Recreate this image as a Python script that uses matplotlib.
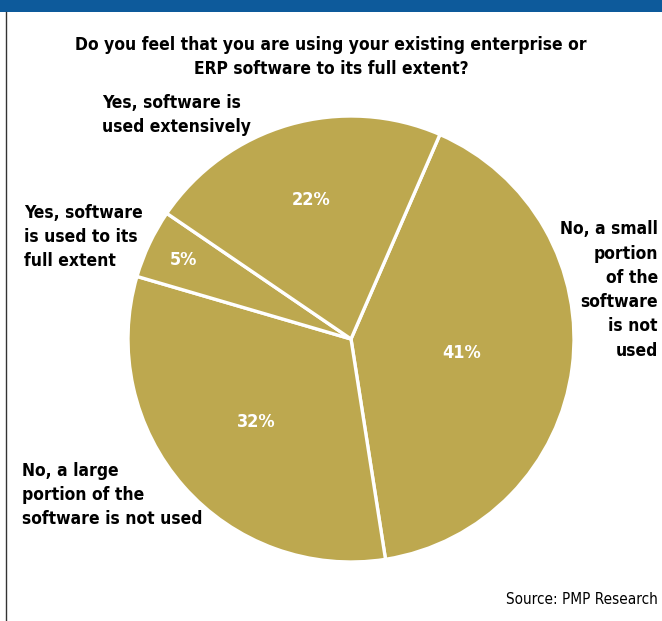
import matplotlib.pyplot as plt
import numpy as np

# Ответы на вопрос опроса (в процентах)
answers = ['No, a small\nportion\nof the\nsoftware\nis not\nused',
           'No, a large\nportion of the\nsoftware is not used',
           'Yes, software\nis used to its\nfull extent',
           'Yes, software is\nused extensively']
shares = [41, 32, 5, 22]

title = 'Do you feel that you are using your existing enterprise or\nERP software to its full extent?'
source = 'Source: PMP Research'

gold = '#bda84f'
blue = '#0d5a9b'
font = ['DejaVu Sans']
stretch = 'condensed'
lbl = dict(fontsize=12.5, fontweight='bold', family=font,
           fontstretch=stretch, linespacing=1.45)

W, H = 662, 621
fig = plt.figure(figsize=(W / 100, H / 100), dpi=100)

# Фоновая ось в пикселях для текста и рамки
bg = fig.add_axes([0, 0, 1, 1])
bg.set_xlim(0, W)
bg.set_ylim(H, 0)
bg.axis('off')
bg.add_patch(plt.Rectangle((0, 0), W, 12, color=blue, lw=0))
bg.plot([6, 6], [12, H], color='#333333', lw=1)

bg.text(331, 57, title, ha='center', va='center', **lbl)

# Подписи категорий
bg.text(102, 115, answers[3], ha='left', va='center', **lbl)
bg.text(24, 237, answers[2], ha='left', va='center', **lbl)
bg.text(658, 290, answers[0], ha='right', va='center', **lbl)
bg.text(22, 495, answers[1], ha='left', va='center', **lbl)
bg.text(658, 600, source, ha='right', va='center', fontsize=11,
        family=font, fontstretch=stretch)

# Круговая диаграмма
cx, cy, r = 351, 339, 223
ax = fig.add_axes([(cx - r) / W, (H - cy - r) / H, 2 * r / W, 2 * r / H])
wedges, _ = ax.pie(shares, colors=[gold] * 4, startangle=66.5,
                   counterclock=False,
                   wedgeprops=dict(edgecolor='white', linewidth=2.4))
ax.set_xlim(-1, 1)
ax.set_ylim(-1, 1)

label_r = [0.5, 0.565, 0.83, 0.65]
for w, s, d in zip(wedges, shares, label_r):
    mid = np.deg2rad((w.theta1 + w.theta2) / 2)
    ax.text(d * np.cos(mid), d * np.sin(mid), f'{s}%', ha='center',
            va='center', color='white', fontsize=13, fontweight='bold',
            family=font, fontstretch=stretch)

fig.savefig('out.png', dpi=100)
